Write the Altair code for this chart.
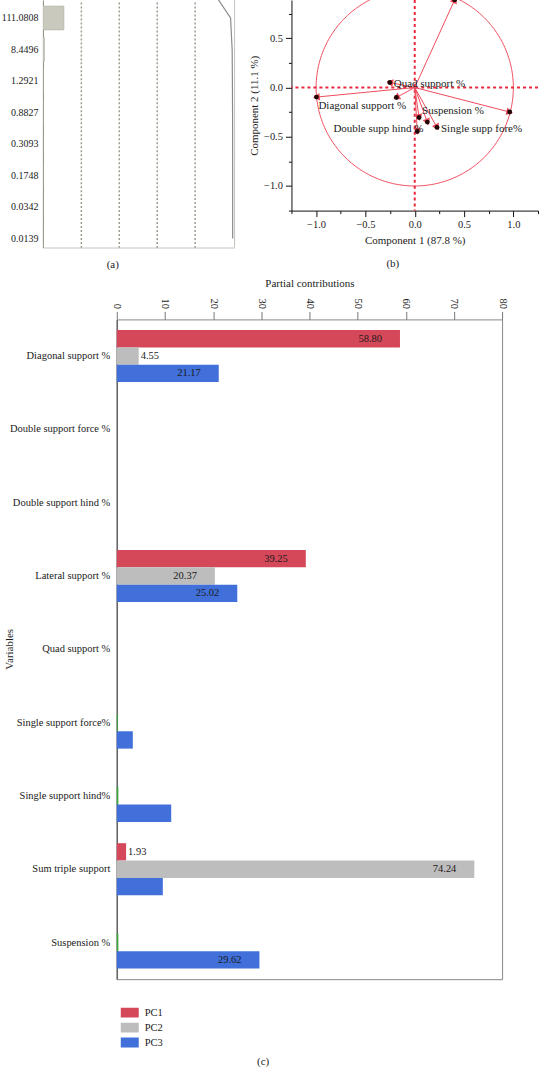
import altair as alt
import numpy as np
import pandas as pd

FONT = "Liberation Serif"
TXT = "#1a1a1a"

# ---------------- (a) eigenvalues / variability ----------------
eigenvalues = [878.5, 111.0808, 8.4496, 1.2921, 0.8827, 0.3093, 0.1748, 0.0342, 0.0139]
eigen_labels = ["878.5000", "111.0808", "8.4496", "1.2921", "0.8827",
                "0.3093", "0.1748", "0.0342", "0.0139"]

# ---------------- (b) correlation circle ----------------
loading_names = ["Diagonal support %", "Double support force %", "Double support hind %",
                 "Lateral support %", "Quad support %", "Single support force%",
                 "Single support hind%", "Sum triple support", "Suspension %"]
loading_x = [-0.997, -0.186, 0.026, 0.963, -0.253, 0.226, 0.128, 0.405, 0.044]
loading_y = [-0.097, -0.101, -0.446, -0.249, 0.051, -0.405, -0.351, 0.890, -0.304]
loading_text = ["Diagonal support %", "", "Double supp hind %", "", "Quad support %",
                "Single supp fore%", "", "", "Suspension %"]

# ---------------- (c) partial contributions ----------------
variables = ["Diagonal support %", "Double support force %", "Double support hind %",
             "Lateral support %", "Quad support %", "Single support force%",
             "Single support hind%", "Sum triple support", "Suspension %"]
components = ["PC1", "PC2", "PC3"]
pc1 = [58.80, 0, 0, 39.25, 0, 0, 0, 1.93, 0]
pc2 = [4.55, 0, 0, 20.37, 0, 0.20, 0.32, 74.24, 0.32]
pc3 = [21.17, 0, 0, 25.02, 0, 3.33, 11.30, 9.56, 29.62]
pc1_lab = ["58.80", "", "", "39.25", "", "", "", "1.93", ""]
pc2_lab = ["4.55", "", "", "20.37", "", "", "", "74.24", ""]
pc3_lab = ["21.17", "", "", "25.02", "", "", "", "", "29.62"]
comp_colors = ["#d5485a", "#bdbdbd", "#4170db"]

# ===================== panel (a) =====================
eig = np.array(eigenvalues)
pct = eig / eig.sum() * 100
df_a = pd.DataFrame({"factor": np.arange(1, len(eig) + 1), "pct": pct, "cum": np.cumsum(pct)})

X_MAX_A = 101
xa_scale = alt.Scale(domain=[0, X_MAX_A], nice=False, zero=False)
ya_scale = alt.Scale(domain=[1.43, 9.29], nice=False, zero=False, reverse=True)
label_array = "[" + ",".join("'%s'" % s for s in eigen_labels) + "]"

xa_axis = alt.Axis(values=[20, 40, 60, 80], tickCount=100, grid=True, gridDash=[2, 2],
                   gridColor="#9d9d90", gridWidth=1.5, labels=False, ticks=False, domain=True,
                   domainColor="#c4c4bc", title=None)
ya_axis = alt.Axis(values=list(range(2, len(eig) + 1)), tickCount=100,
                   labelExpr=label_array + "[datum.value - 1]",
                   ticks=False, grid=False, domainColor="#8a8a80", labelFontSize=10,
                   labelPadding=5, labelColor=TXT, labelOverlap=False, title=None)

base_a = alt.Chart(df_a)
bars_a = base_a.transform_calculate(
    y_lo="datum.factor - 0.38", y_hi="datum.factor + 0.38"
).mark_rect(clip=True, fill="#c9c9bd", stroke="#aaaa9c", strokeWidth=0.5).encode(
    x=alt.X("pct:Q", scale=xa_scale, axis=xa_axis),
    x2=alt.datum(0),
    y=alt.Y("y_lo:Q", scale=ya_scale, axis=ya_axis),
    y2="y_hi:Q",
)
line_a = base_a.mark_line(clip=True, color="#8a8a8a", strokeWidth=1.2).encode(
    x=alt.X("cum:Q", scale=xa_scale),
    y=alt.Y("factor:Q", scale=ya_scale),
)
right_edge_a = alt.Chart(alt.Data(values=[{}])).mark_rule(color="#c4c4bc", strokeWidth=1).encode(
    x=alt.datum(X_MAX_A)
)
panel_a = alt.layer(bars_a, line_a, right_edge_a).properties(
    width=192, height=248,
    view=alt.ViewBackground(stroke="transparent"),
    title=alt.TitleParams("(a)", orient="bottom", anchor="middle", fontSize=11,
                          fontWeight="normal", font=FONT, color=TXT, offset=11, dx=-26),
)

# ===================== panel (b) =====================
df_b = pd.DataFrame({"name": loading_names, "x": loading_x, "y": loading_y, "label": loading_text})
RED = "#ef4b5c"
RED_DASH = "#e8283c"
xb_scale = alt.Scale(domain=[-1.25, 1.25], nice=False, zero=False)
yb_scale = alt.Scale(domain=[-1.25, 0.889], nice=False, zero=False)
major = "abs(datum.value * 2 - round(datum.value * 2)) < 0.000001"
tick_rule = {"condition": {"test": major, "value": 6}, "value": 3}
lab_expr = major + " ? format(datum.value, '.1f') : ''"

xb_axis = alt.Axis(values=[-1.25 + 0.25 * i for i in range(11)], tickCount=100, labelExpr=lab_expr,
                   tickSize=tick_rule, tickColor="#111", domainColor="#111", grid=False,
                   labelFontSize=10.5, labelColor=TXT, labelPadding=3, labelOverlap=False,
                   labelFlush=False,
                   title="Component 1 (87.8 %)", titleFontSize=11, titleFontWeight="normal",
                   titleColor=TXT, titlePadding=4)
yb_axis = alt.Axis(values=[-1.25 + 0.25 * i for i in range(9)], tickCount=100, labelExpr=lab_expr,
                   tickSize=tick_rule, tickColor="#111", domainColor="#111", grid=False,
                   labelFontSize=10.5, labelColor=TXT, labelPadding=3, labelOverlap=False,
                   labelFlush=False,
                   title="Component 2 (11.1 %)", titleFontSize=11, titleFontWeight="normal",
                   titleColor=TXT, titlePadding=4)

circle_b = alt.Chart(alt.sequence(0, 361, 1, as_="deg")).transform_calculate(
    cx="cos(datum.deg * PI / 180)", cy="sin(datum.deg * PI / 180)"
).mark_line(clip=True, color=RED, strokeWidth=1).encode(
    x=alt.X("cx:Q", scale=xb_scale, axis=xb_axis),
    y=alt.Y("cy:Q", scale=yb_scale, axis=yb_axis),
    order="deg:Q",
)
one = alt.Data(values=[{}])
vzero = alt.Chart(one).mark_rule(color=RED_DASH, strokeDash=[3, 3], strokeWidth=2).encode(x=alt.datum(0))
hzero = alt.Chart(one).mark_rule(color=RED_DASH, strokeDash=[3, 3], strokeWidth=2).encode(y=alt.datum(0))

base_b = alt.Chart(df_b).transform_calculate(
    o="0", ang="(atan2(-datum.y, datum.x) * 180 / PI + 360) % 360"
)
arrows = base_b.mark_rule(clip=True, color=RED, strokeWidth=1).encode(
    x=alt.X("o:Q", scale=xb_scale), y=alt.Y("o:Q", scale=yb_scale),
    x2="x:Q", y2="y:Q",
)
heads = base_b.mark_point(clip=True, shape="triangle-right", filled=True, size=60,
                          color=RED, opacity=1).encode(
    x=alt.X("x:Q", scale=xb_scale), y=alt.Y("y:Q", scale=yb_scale),
    angle=alt.Angle("ang:Q", scale=None),
)
dots = base_b.mark_circle(clip=True, size=24, color="#220606", opacity=1).encode(
    x=alt.X("x:Q", scale=xb_scale), y=alt.Y("y:Q", scale=yb_scale),
)
txt_b = dict(clip=True, fontSize=11, font=FONT, color=TXT, baseline="middle")
right_names = ["Quad support %", "Single supp fore%"]
lab_right = base_b.transform_filter(alt.FieldOneOfPredicate(field="label", oneOf=right_names)).mark_text(
    align="left", dx=4, dy=2, **txt_b).encode(x="x:Q", y="y:Q", text="label:N")
lab_susp = base_b.transform_filter(alt.FieldEqualPredicate(field="label", equal="Suspension %")).mark_text(
    align="left", dx=3, dy=-6, **txt_b).encode(x="x:Q", y="y:Q", text="label:N")
lab_diag = base_b.transform_filter(alt.FieldEqualPredicate(field="label", equal="Diagonal support %")).mark_text(
    align="left", dx=2, dy=9, **txt_b).encode(x="x:Q", y="y:Q", text="label:N")
lab_hind = base_b.transform_filter(alt.FieldEqualPredicate(field="label", equal="Double supp hind %")).mark_text(
    align="right", dx=6, dy=-2, **txt_b).encode(x="x:Q", y="y:Q", text="label:N")

panel_b = alt.layer(circle_b, vzero, hzero, arrows, heads, dots,
                    lab_right, lab_susp, lab_diag, lab_hind).properties(
    width=247, height=211,
    view=alt.ViewBackground(stroke="transparent"),
    title=alt.TitleParams("(b)", orient="bottom", anchor="middle", fontSize=11,
                          fontWeight="normal", font=FONT, color=TXT, offset=13, dx=-22),
)

# ===================== panel (c) =====================
rows = []
for i, v in enumerate(variables):
    for comp, vals, labs in zip(components, (pc1, pc2, pc3), (pc1_lab, pc2_lab, pc3_lab)):
        rows.append({"variable": v, "component": comp, "value": vals[i], "label": labs[i]})
df_c = pd.DataFrame(rows)

yc = alt.Y("variable:N", sort=variables,
           scale=alt.Scale(paddingInner=0.29, paddingOuter=0.145),
           axis=alt.Axis(title="Variables", ticks=False, labelPadding=7, domainColor="#666",
                         domainWidth=1.5, labelFontSize=10.5, labelColor=TXT, labelLimit=300,
                         titleFontSize=11, titleFontWeight="normal", titleColor=TXT,
                         titleX=-107, titleY=330, titleAngle=270, titleBaseline="middle",
                         titleAlign="center"))
yoff = alt.YOffset("component:N", sort=components, scale=alt.Scale(paddingInner=0, paddingOuter=0))
xc = alt.X("value:Q", scale=alt.Scale(domain=[0, 80], nice=False),
           axis=alt.Axis(orient="top", values=list(range(0, 81, 10)), tickCount=100, labelAngle=90,
                         title="Partial contributions", tickSize=8, tickColor="#777",
                         domain=False, grid=False, labelFontSize=10.5, labelColor=TXT,
                         labelPadding=3, labelOverlap=False, titleFontSize=11,
                         titleFontWeight="normal", titleColor=TXT, titlePadding=9))

legend_c = alt.Legend(orient="bottom", direction="vertical", title=None, offset=26,
                      symbolType="M-1,-0.55H1V0.55H-1Z", symbolSize=324, symbolStrokeWidth=0,
                      symbolOffset=4, labelFontSize=10.5, labelColor=TXT, labelFont=FONT,
                      labelOffset=6, clipHeight=15, rowPadding=0, padding=0)

base_c = alt.Chart(df_c)
bars_c = base_c.mark_bar().encode(
    y=yc, yOffset=yoff, x=xc,
    color=alt.condition("datum.value > 0 && datum.value < 1", alt.value("#38a838"),
                        alt.Color("component:N", sort=components,
                                  scale=alt.Scale(domain=components, range=comp_colors),
                                  legend=legend_c)),
)
txt_c = dict(fontSize=10.5, font=FONT, color=TXT, baseline="middle")
lab_in = base_c.transform_filter("datum.label != '' && datum.value >= 10").mark_text(
    align="right", dx=-18, **txt_c).encode(y=yc, yOffset=yoff, x=xc, text="label:N")
lab_out = base_c.transform_filter("datum.label != '' && datum.value < 10").mark_text(
    align="left", dx=2, **txt_c).encode(y=yc, yOffset=yoff, x=xc, text="label:N")

panel_c = alt.layer(bars_c, lab_in, lab_out).properties(
    width=386, height=661,
    view=alt.ViewBackground(stroke="#888", strokeWidth=1),
)

# empty lead-in cell so the lower panel can sit left of the upper panel's plot origin
lead = alt.Chart(one).mark_point(opacity=0, size=0).properties(
    width=1, height=1, view=alt.ViewBackground(stroke="transparent"))

chart = alt.vconcat(
    alt.hconcat(panel_a, panel_b, spacing=12),
    alt.hconcat(lead, panel_c, spacing=-42).resolve_legend(color="independent"),
    spacing=7,
).resolve_legend(color="independent").properties(
    padding={"left": 0, "top": -3, "right": 0, "bottom": 0},
    background="white",
    title=alt.TitleParams("(c)", orient="bottom", anchor="middle", fontSize=11,
                          fontWeight="normal", font=FONT, color=TXT, offset=5, dx=-7),
).configure(font=FONT).configure_axis(labelFont=FONT, titleFont=FONT).configure_title(font=FONT)

chart.save("out.html", embed_options={"renderer": "svg", "actions": False})
